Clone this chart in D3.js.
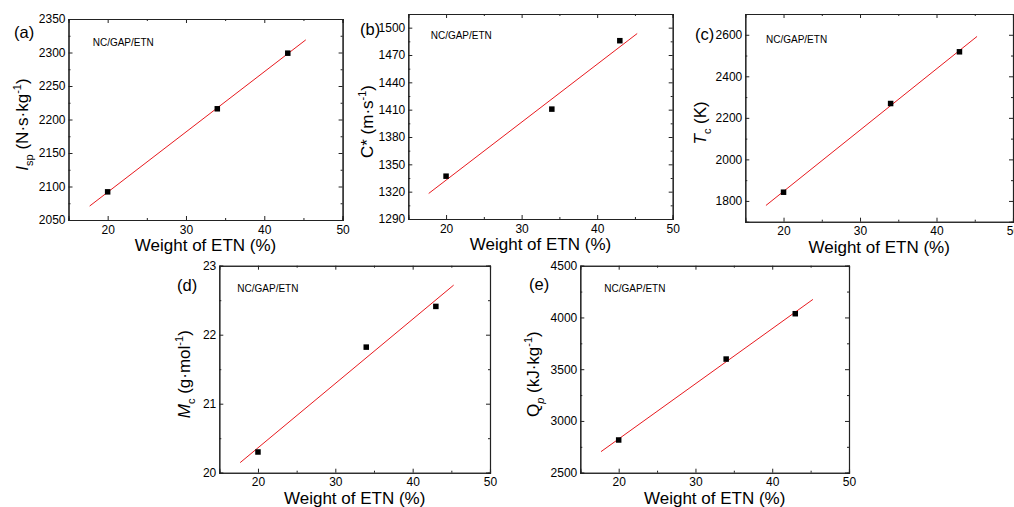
<!DOCTYPE html>
<html>
<head>
<meta charset="utf-8">
<script src="https://cdn.jsdelivr.net/npm/d3@7"></script>
<style>
  body { margin: 0; background: #fff; }
  svg { display: block; font-family: "Liberation Sans", Arial, sans-serif; }
  .axis-title { font-size: 17px; fill: #000; }
  .panel-label { font-size: 16.5px; fill: #000; }
  .sample { font-size: 10px; fill: #000; }
</style>
</head>
<body>
<svg id="chart" width="1014" height="507"></svg>
<script>
// ETN content (wt %) of the three formulations
const etn = [20, 34, 43];

// Properties
const isp = [2092, 2216, 2299];
const cstar = [1337, 1410.6, 1485.7];
const tc = [1842, 2269, 2518];
const mc = [20.30, 21.82, 22.41];
const qp = [2816, 3598, 4036];

// Axis ranges and ticks
const xDomain = [15, 50];
const xTicks = [20, 30, 40, 50];
const xMinor = [25, 35, 45];
const fitRange = [17.7, 45.3];

const ispTicks = [2050, 2100, 2150, 2200, 2250, 2300, 2350];
const cstarTicks = [1290, 1320, 1350, 1380, 1410, 1440, 1470, 1500];
const tcTicks = [1800, 2000, 2200, 2400, 2600];
const mcTicks = [20, 21, 22, 23];
const qpTicks = [2500, 3000, 3500, 4000, 4500];

const panels = [
  { id: "(a)", values: isp, yDomain: [2050, 2350], yTicks: ispTicks, yStep: 25,
    box: [68.5, 342.6, 19, 220], labelPos: [14, 38], samplePos: [92.7, 45.5], titleX: 22,
    title: [["I", "it"], ["sp", "sub"], [" (N·s·kg", ""], ["-1", "sup"], [")", ""]] },
  { id: "(b)", values: cstar, yDomain: [1290, 1515], yTicks: cstarTicks, yStep: 15,
    box: [408.3, 672.7, 14, 219], labelPos: [360, 35], samplePos: [430.7, 39], titleX: 367,
    title: [["C* (m·s", ""], ["-1", "sup"], [")", ""]] },
  { id: "(c)", values: tc, yDomain: [1700, 2700], yTicks: tcTicks, yStep: 100,
    box: [745.3, 1013, 14, 221.7], labelPos: [695, 40], samplePos: [766, 43], titleX: 700,
    title: [["T", "it"], ["c", "sub"], [" (K)", ""]] },
  { id: "(d)", values: mc, yDomain: [20, 23], yTicks: mcTicks, yStep: 0.5,
    box: [219.3, 490, 265.7, 472.7], labelPos: [177, 291], samplePos: [237.3, 292], titleX: 184,
    title: [["M", "it"], ["c", "sub"], [" (g·mol", ""], ["-1", "sup"], [")", ""]] },
  { id: "(e)", values: qp, yDomain: [2500, 4500], yTicks: qpTicks, yStep: 250,
    box: [580.3, 849, 265.7, 472.7], labelPos: [529, 290], samplePos: [604.3, 292], titleX: 533,
    title: [["Q", ""], ["p", "subit"], [" (kJ·kg", ""], ["-1", "sup"], [")", ""]] },
];

const svg = d3.select("#chart");

function linearFit(xs, ys) {
  const mx = d3.mean(xs), my = d3.mean(ys);
  let sxx = 0, sxy = 0;
  xs.forEach((x, i) => {
    sxx += (x - mx) * (x - mx);
    sxy += (x - mx) * (ys[i] - my);
  });
  const slope = sxy / sxx;
  return (x) => my + slope * (x - mx);
}

function drawPanel(p) {
  const [x0, x1, y0, y1] = p.box;
  const x = d3.scaleLinear().domain(xDomain).range([x0, x1]);
  const y = d3.scaleLinear().domain(p.yDomain).range([y1, y0]);
  const g = svg.append("g");

  // Minor y values
  const yMinor = d3.range(p.yDomain[0], p.yDomain[1] + 1e-9, p.yStep)
    .filter((v) => !p.yTicks.some((t) => Math.abs(t - v) < 1e-9) && v > p.yDomain[0] && v < p.yDomain[1]);

  // Bottom axis (ticks inward)
  g.append("g").attr("transform", `translate(0,${y1})`)
    .call(d3.axisBottom(x).tickValues(xTicks).tickSize(-4).tickPadding(5).tickFormat(d3.format("d")));
  g.append("g").attr("transform", `translate(0,${y1})`)
    .call(d3.axisBottom(x).tickValues(xMinor).tickSize(-2).tickFormat(""));

  // Left axis
  g.append("g").attr("transform", `translate(${x0},0)`)
    .call(d3.axisLeft(y).tickValues(p.yTicks).tickSize(-4).tickPadding(3).tickFormat(d3.format("d")));
  g.append("g").attr("transform", `translate(${x0},0)`)
    .call(d3.axisLeft(y).tickValues(yMinor).tickSize(-2).tickFormat(""));

  // Top and right mirror axes
  g.append("g").attr("transform", `translate(0,${y0})`)
    .call(d3.axisTop(x).tickValues(xTicks).tickSize(-4).tickFormat(""));
  g.append("g").attr("transform", `translate(0,${y0})`)
    .call(d3.axisTop(x).tickValues(xMinor).tickSize(-2).tickFormat(""));
  g.append("g").attr("transform", `translate(${x1},0)`)
    .call(d3.axisRight(y).tickValues(p.yTicks).tickSize(-4).tickFormat(""));
  g.append("g").attr("transform", `translate(${x1},0)`)
    .call(d3.axisRight(y).tickValues(yMinor).tickSize(-2).tickFormat(""));

  g.selectAll(".domain").attr("stroke", "#222").attr("stroke-width", 1.1);
  g.selectAll(".tick line").attr("stroke", "#222");
  g.selectAll(".tick text").attr("fill", "#000").style("font-size", "12px")
    .style("font-family", "'Liberation Sans', Arial, sans-serif");

  // Fit line
  const fit = linearFit(etn, p.values);
  g.append("line")
    .attr("x1", x(fitRange[0])).attr("y1", y(fit(fitRange[0])))
    .attr("x2", x(fitRange[1])).attr("y2", y(fit(fitRange[1])))
    .attr("stroke", "#e8191e").attr("stroke-width", 1);

  // Points
  const s = 5.5;
  g.selectAll("rect.pt").data(etn).join("rect")
    .attr("class", "pt")
    .attr("x", (d) => x(d) - s / 2)
    .attr("y", (d, i) => y(p.values[i]) - s / 2)
    .attr("width", s).attr("height", s)
    .attr("fill", "#000");

  // Labels
  g.append("text").attr("class", "sample")
    .attr("x", p.samplePos[0]).attr("y", p.samplePos[1]).text("NC/GAP/ETN");

  g.append("text").attr("class", "panel-label")
    .attr("x", p.labelPos[0]).attr("y", p.labelPos[1]).text(p.id);

  g.append("text").attr("class", "axis-title")
    .attr("x", (x0 + x1) / 2).attr("y", y1 + 31)
    .attr("text-anchor", "middle").text("Weight of ETN (%)");

  const yt = g.append("text").attr("class", "axis-title")
    .attr("text-anchor", "middle")
    .attr("transform", `translate(${p.titleX + 6},${(y0 + y1) / 2 + 5}) rotate(-90)`);
  let shift = 0;
  p.title.forEach(([txt, kind]) => {
    const t = yt.append("tspan").text(txt);
    let target = 0;
    if (kind === "sub" || kind === "subit") target = 5;
    if (kind === "sup") target = -7;
    t.attr("dy", target - shift);
    shift = target;
    if (kind === "it" || kind === "subit") t.attr("font-style", "italic");
    if (kind === "sub" || kind === "subit" || kind === "sup") t.attr("font-size", "11px");
  });
}

panels.forEach(drawPanel);
</script>
</body>
</html>
